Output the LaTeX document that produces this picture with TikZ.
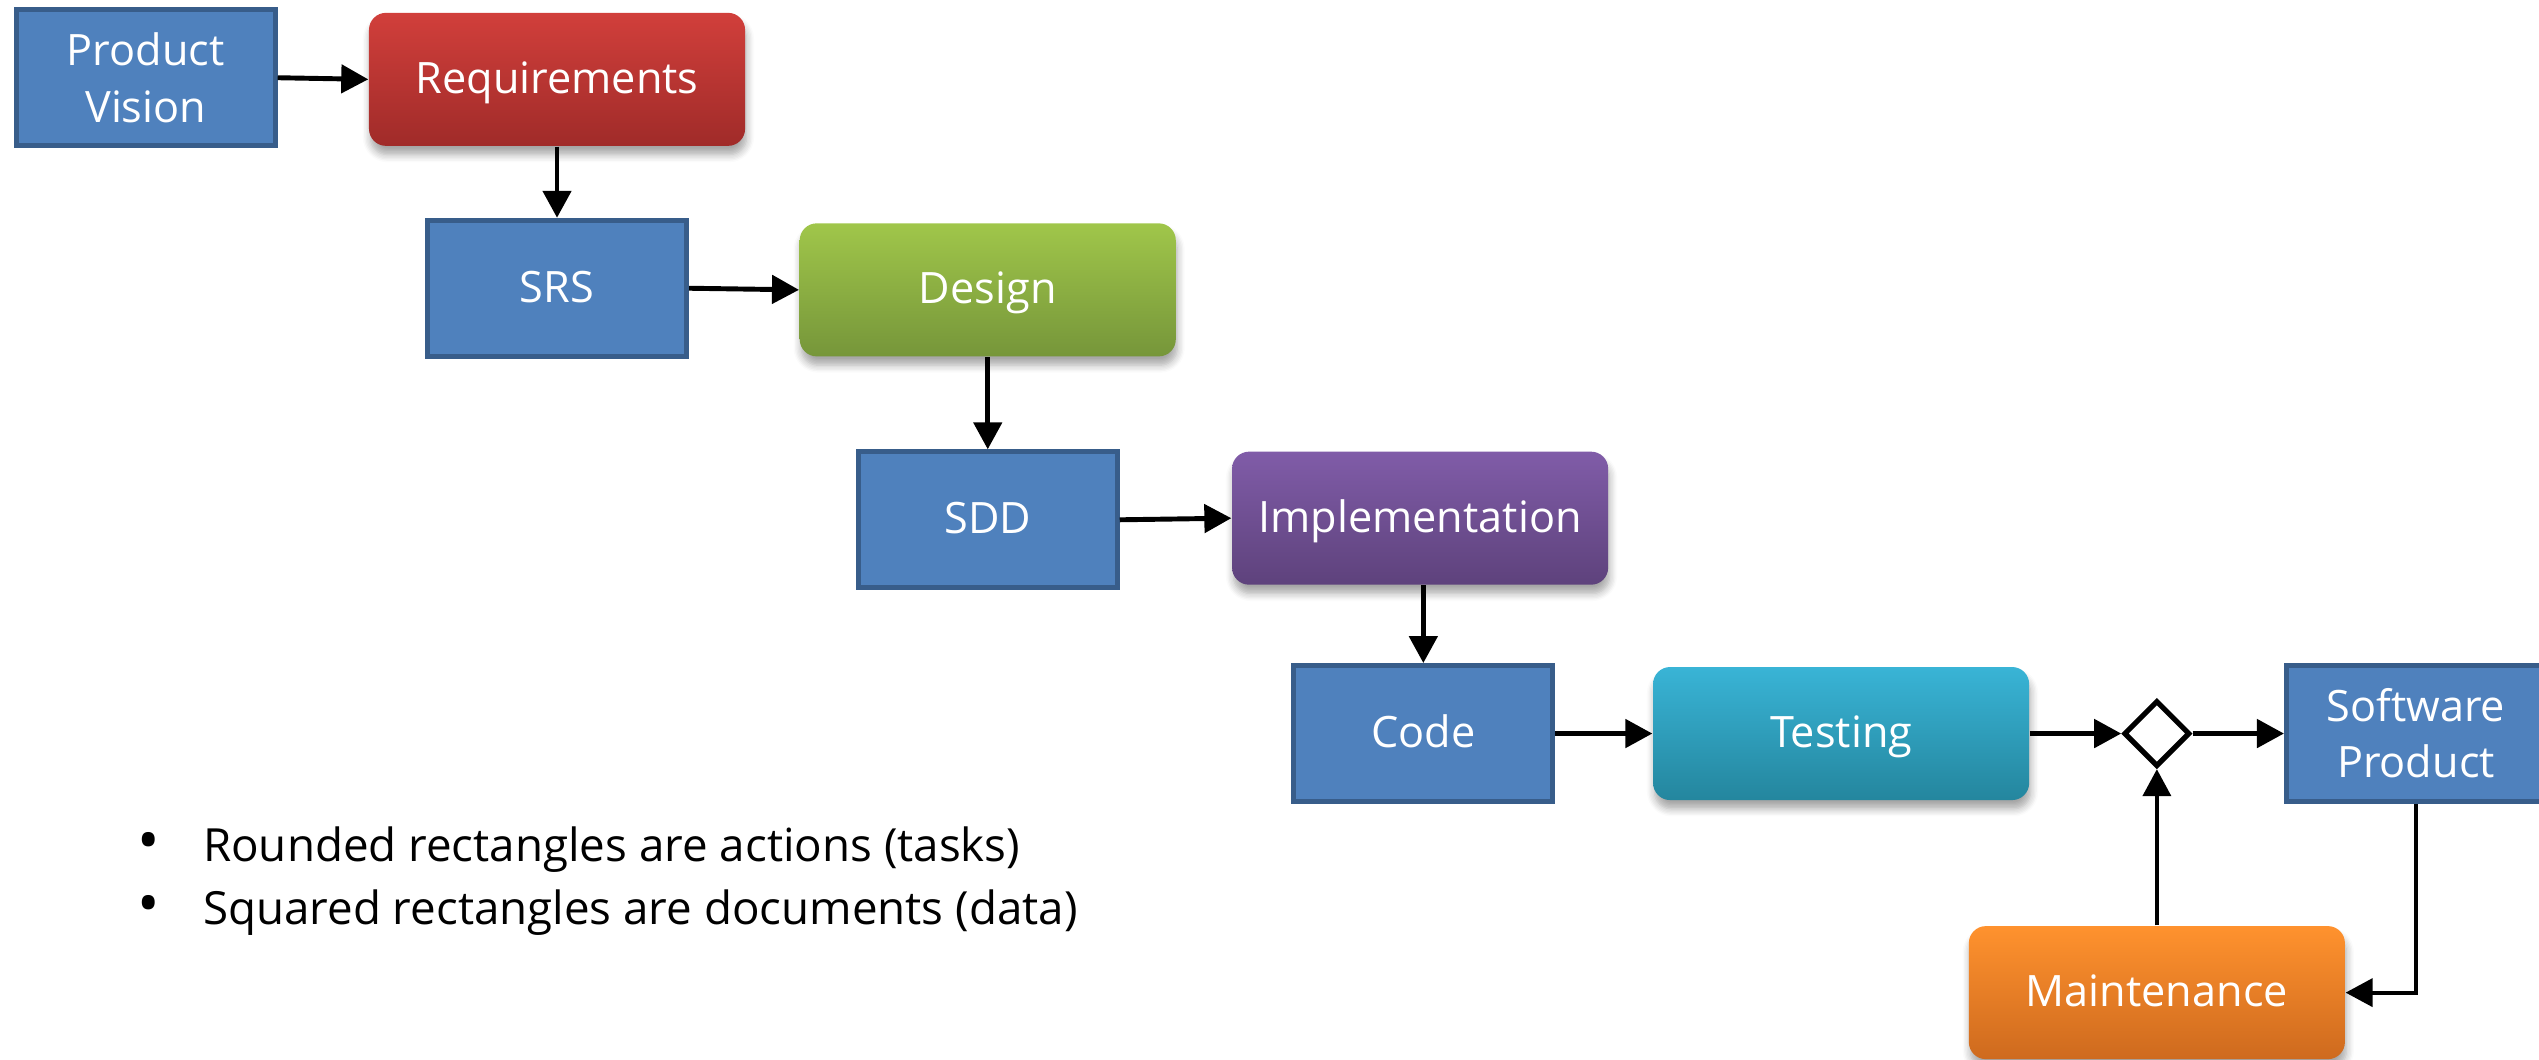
\documentclass[tikz,border=0pt]{standalone}
\usepackage{fontspec}
\setmainfont{Open Sans}
\usetikzlibrary{arrows.meta,shapes.geometric,shadows.blur}
\definecolor{docfill}{HTML}{4F81BD}
\definecolor{docline}{HTML}{385D8A}
\tikzset{
  docbox/.style={draw=docline, fill=docfill, line width=1.4pt, minimum width=2.59cm, minimum height=1.36cm,
    inner sep=0pt, text=white, align=center, font=\fontsize{12.3}{16}\selectfont},
  oneline/.style={text height=0.86em, text depth=0.06em},
  actbox/.style={rounded corners=0.17cm, minimum width=3.76cm, minimum height=1.33cm, inner sep=0pt,
    text=white, align=center, font=\fontsize{12.3}{16}\selectfont, oneline,
    blur shadow={shadow xshift=0.4pt, shadow yshift=-2.5pt, shadow blur steps=6, shadow opacity=35}},
  flow/.style={line width=1.4pt, -{Triangle[length=0.27cm,width=0.28cm]}},
  thinflow/.style={line width=1.1pt, -{Triangle[length=0.27cm,width=0.28cm]}},
  gate/.style={diamond, draw, line width=1.5pt, fill=white, minimum width=0.66cm, minimum height=0.66cm, inner sep=0pt},
  bullettext/.style={anchor=base west, inner sep=0pt, font=\fontsize{13}{16}\selectfont},
  bulletmark/.style={anchor=base, inner sep=0pt, font=\fontsize{17}{16}\selectfont}
}
\begin{document}
\begin{tikzpicture}[x=0.01619cm, y=-0.01619cm]
\useasboundingbox (0,0) rectangle (1568,654);
\node[docbox] (pv) at (90,48) {Product\\Vision};
\node[actbox, top color={rgb,255:red,209;green,63;blue,59}, bottom color={rgb,255:red,160;green,43;blue,41}] (req) at (344,49) {Requirements};
\node[docbox, oneline] (srs) at (344,178) {SRS};
\node[actbox, top color={rgb,255:red,160;green,198;blue,74}, bottom color={rgb,255:red,118;green,150;blue,58}] (des) at (610,179) {Design};
\node[docbox, oneline] (sdd) at (610,321) {SDD};
\node[actbox, top color={rgb,255:red,128;green,92;blue,168}, bottom color={rgb,255:red,94;green,66;blue,124}] (imp) at (877,320) {Implementation};
\node[docbox, oneline] (code) at (879,453) {Code};
\node[actbox, top color={rgb,255:red,57;green,180;blue,214}, bottom color={rgb,255:red,36;green,134;blue,158}] (test) at (1137,453) {Testing};
\node[gate] (gate) at (1332,453) {};
\node[docbox] (sp) at (1492,453) {Software\\Product};
\node[actbox, top color={rgb,255:red,255;green,146;blue,46}, bottom color={rgb,255:red,206;green,106;blue,30}] (maint) at (1332,613) {Maintenance};
\draw[flow] (pv.east) -- (req.west);
\draw[flow] (req.south) -- (srs.north);
\draw[flow] (srs.east) -- (des.west);
\draw[flow] (des.south) -- (sdd.north);
\draw[flow] (sdd.east) -- (imp.west);
\draw[flow] (code.north |- imp.south) -- (code.north);
\draw[flow] (code.east) -- (test.west);
\draw[flow] (test.east) -- (gate.west);
\draw[flow] (gate.east) -- (sp.west);
\draw[thinflow] (sp.south) |- (maint.east);
\draw[thinflow] (maint.north) -- (gate.south);
\node[bulletmark] (b1) at (92,532) {•};
\node[bullettext] (t1) at (125,532) {Rounded rectangles are actions (tasks)};
\node[bulletmark] (b2) at (92,571) {•};
\node[bullettext] (t2) at (125,571) {Squared rectangles are documents (data)};
\end{tikzpicture}
\end{document}
